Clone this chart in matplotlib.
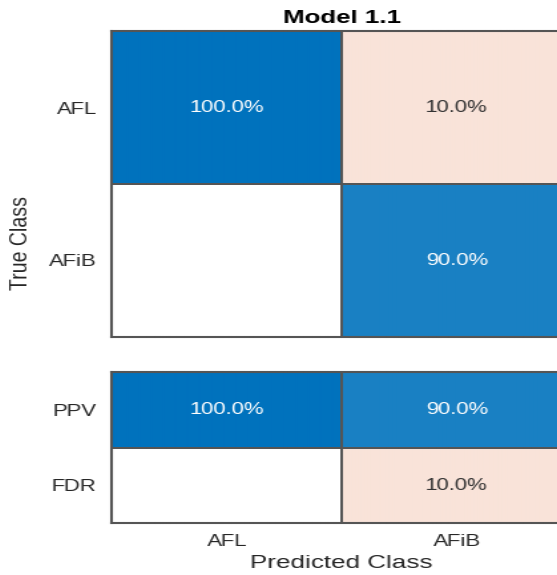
import numpy as np
import matplotlib
matplotlib.use("Agg")
import matplotlib.pyplot as plt
from matplotlib.colors import LinearSegmentedColormap, Normalize

plt.rcParams['font.family'] = ['Liberation Sans', 'DejaVu Sans']

classes = ['AFL', 'AFiB']
# column-normalised confusion matrix (rows = true, cols = predicted), in %
conf_pct = np.array([[100.0, 10.0],
                     [0.0, 90.0]])
summary_rows = ['PPV', 'FDR']
summary_pct = np.array([[100.0, 90.0],
                        [0.0, 10.0]])

blue = LinearSegmentedColormap.from_list('diag', ['#ffffff', '#0072bd'])
red = LinearSegmentedColormap.from_list('off', ['#ffffff', '#d95319'])
norm_diag = Normalize(0, 100)
norm_off = Normalize(0, 60)

# drawn narrow, then widened at the end
W, H = 419, 575
SX = 557 / W


def fx(px):
    return px / SX / W


def fy(py):
    return 1 - py / H


def draw_cells(ax, vals, good):
    n_r, n_c = vals.shape
    colors = np.zeros((n_r, n_c, 3))
    for r in range(n_r):
        for c in range(n_c):
            v = vals[r, c]
            if good[r, c]:
                colors[r, c] = blue(norm_diag(v))[:3]
            else:
                colors[r, c] = red(norm_off(v))[:3]
            if v > 0:
                dark = good[r, c] and v > 50
                ax.text(c + 0.5, r + 0.5, f'{v:.1f}%', ha='center', va='center',
                        fontsize=12, color='white' if dark else '#333333')
    ax.pcolormesh(np.arange(n_c + 1), np.arange(n_r + 1), colors,
                  edgecolors='#555555', linewidth=1.2)
    ax.set_xlim(0, n_c)
    ax.set_ylim(n_r, 0)
    for s in ax.spines.values():
        s.set_color('#555555')
        s.set_linewidth(1.5)
    ax.tick_params(length=0, labelsize=12, labelcolor='#262626', pad=8)


fig = plt.figure(figsize=(W / 100, H / 100), dpi=100)

left, right = fx(112), fx(572)
ax = fig.add_axes([left, fy(337), right - left, fy(31) - fy(337)])
draw_cells(ax, conf_pct, np.eye(2, dtype=bool))
ax.set_yticks([0.5, 1.5], classes)
ax.set_xticks([])
ax.set_title('Model 1.1', fontsize=14, fontweight='bold', pad=6)

ax2 = fig.add_axes([left, fy(523), right - left, fy(372) - fy(523)])
draw_cells(ax2, summary_pct, np.array([[True, True], [False, False]]))
ax2.set_yticks([0.5, 1.5], summary_rows)
ax2.set_xticks([0.5, 1.5], classes)

fig.text(fx(341), fy(564), 'Predicted Class', ha='center', va='center',
         fontsize=14, color='#262626')
fig.text(fx(22), fy(243), 'True Class', ha='center', va='center',
         rotation=90, fontsize=14, color='#262626')

# widen the rendered figure to the final 557 px width
fig.canvas.draw()
img = np.asarray(fig.canvas.buffer_rgba())[..., :3].astype(float) / 255
h, w = img.shape[:2]
xs = np.linspace(0, w - 1, 557)
i0 = np.floor(xs).astype(int)
i1 = np.minimum(i0 + 1, w - 1)
f = (xs - i0)[None, :, None]
out = img[:, i0] * (1 - f) + img[:, i1] * f
plt.imsave('out.png', np.clip(out, 0, 1))
